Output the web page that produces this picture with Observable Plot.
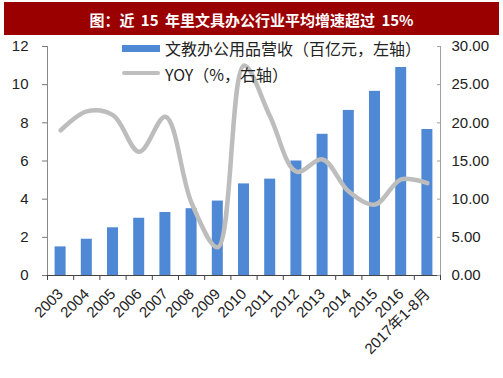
<!DOCTYPE html>
<html>
<head>
<meta charset="utf-8">
<script src="https://cdn.jsdelivr.net/npm/d3@7"></script>
<script src="https://cdn.jsdelivr.net/npm/@observablehq/plot@0.6"></script>
<style>
  html, body { margin: 0; padding: 0; background: #fff; }
  #wrap { position: relative; width: 503px; height: 378px; overflow: hidden; }
  #title { position: absolute; left: 4px; top: 2px; width: 495px; height: 33px; background: #9b0000;
    color: #fff; font: bold 15px "Noto Sans CJK SC", sans-serif; text-align: center; line-height: 36px; word-spacing: 3px; }
  #chart { position: absolute; left: 0; top: 0; }
  .leg { position: absolute; font: 16px "Noto Sans CJK SC", sans-serif; color: #222; white-space: nowrap; }
  .sw { position: absolute; }
</style>
</head>
<body>
<div id="wrap">
  <div id="chart"></div>
  <div id="title">图：近 15 年里文具办公行业平均增速超过 15%</div>
  <div class="sw" style="left:122px;top:45px;width:38px;height:7px;background:#4f88d4"></div>
  <div class="leg" style="left:165px;top:36px;">文教办公用品营收（百亿元，左轴）</div>
  <div class="sw" style="left:122px;top:71px;width:38px;height:4px;background:#bfbfbf;border-radius:2px"></div>
  <div class="leg" style="left:165px;top:62px;">YOY（%，右轴）</div>
</div>
<script>
const categories = ["2003","2004","2005","2006","2007","2008","2009","2010","2011","2012","2013","2014","2015","2016","2017年1-8月"];
const revenue = [1.5, 1.9, 2.5, 3.0, 3.3, 3.5, 3.9, 4.8, 5.05, 6.0, 7.4, 8.65, 9.65, 10.9, 7.65];
const yoy = [19.0, 21.5, 21.0, 16.2, 20.8, 9.5, 3.7, 27.5, 20.8, 13.6, 15.2, 11.0, 9.3, 12.6, 12.1];
const leftTicks = [0, 2, 4, 6, 8, 10, 12];
const rightMax = 30;
const leftMax = 12;

const data = categories.map((c, i) => ({i, cat: c, rev: revenue[i], yoy: yoy[i]}));
const k = rightMax / leftMax;
const font = "'Liberation Sans', Arial, 'Noto Sans CJK SC', sans-serif";

const chart = Plot.plot({
  width: 503,
  height: 378,
  marginLeft: 47,
  marginRight: 63,
  marginTop: 46,
  marginBottom: 103,
  style: {fontFamily: font, fontSize: "15px", color: "#222", background: "transparent"},
  x: {type: "linear", domain: [-0.5, categories.length - 0.5]},
  y: {domain: [0, leftMax]},
  marks: [
    Plot.rectY(data, {x1: d => d.i - 0.5, x2: d => d.i + 0.5, y: "rev", fill: "#4f88d4", insetLeft: 7.6, insetRight: 7.6}),
    Plot.line(data, {x: "i", y: d => d.yoy / k, curve: "catmull-rom", stroke: "#bdbdbd", strokeWidth: 4.5}),
    Plot.ruleX([-0.5], {stroke: "#8a8a8a"}),
    Plot.ruleX([categories.length - 0.5], {stroke: "#a0a0a0"}),
    Plot.ruleY([0], {stroke: "#444"}),
    Plot.axisY({anchor: "left", ticks: leftTicks, tickSize: 5, tickPadding: 14, fontSize: 15, stroke: "#777", label: null}),
    Plot.axisY({anchor: "right", ticks: leftTicks, tickSize: 0, tickPadding: 11, fontSize: 15, label: null,
      tickFormat: d => (d * k).toFixed(2)}),
    Plot.axisY({anchor: "right", ticks: leftTicks, tickSize: 4, dx: -4, tickFormat: () => "", stroke: "#a0a0a0", label: null}),
    Plot.axisX({ticks: d3.range(-0.5, categories.length, 1), tickSize: 5, tickFormat: () => "", stroke: "#444", label: null}),
    Plot.axisX({ticks: d3.range(categories.length), tickSize: 0, tickPadding: 16, tickRotate: -45, fontSize: 15,
      tickFormat: i => categories[i], label: null})
  ]
});
document.getElementById("chart").appendChild(chart);
</script>
</body>
</html>
